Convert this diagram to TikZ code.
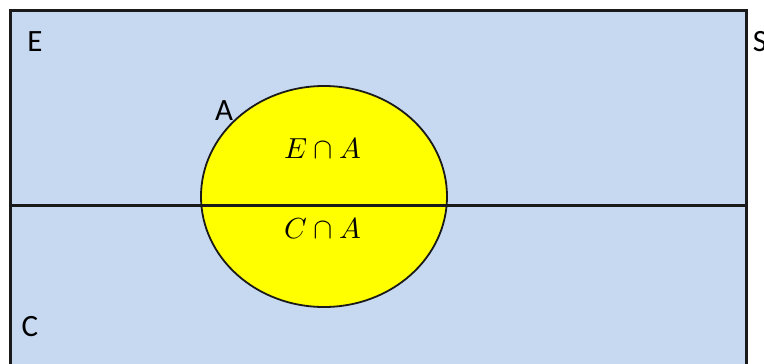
\documentclass[tikz,border=0pt]{standalone}
\usepackage{fontspec}
\setmainfont{Carlito}
\usepackage{unicode-math}
\setmathfont{Latin Modern Math}
\definecolor{bgblue}{HTML}{C6D9F1}
\definecolor{vyellow}{HTML}{FFFF00}
\definecolor{edge}{HTML}{1A1A1A}
\begin{document}
\begin{tikzpicture}[x=1pt,y=-1pt,
  lbl/.style={font=\fontsize{31}{36}\selectfont, inner sep=0pt, anchor=center},
  mlbl/.style={font=\fontsize{29}{34}\selectfont, inner sep=0pt, anchor=center}]
\useasboundingbox (0,0) rectangle (764,364);
\clip (0,0) rectangle (764,364);
\fill[white] (0,0) rectangle (764,364);
\draw[edge, line width=3pt, fill=bgblue] (10,10) rectangle (746,380);
\draw[edge, line width=1.8pt, fill=vyellow] (324,196.5) ellipse [x radius=123, y radius=110.5];
\coordinate (lineL) at (10,205.5);
\coordinate (lineR) at (746,205.5);
\draw[edge, line width=2.4pt] (lineL) -- (lineR);
\node[lbl] (E) at (35,42) {E};
\node[lbl] (S) at (760,42) {S};
\node[lbl] (A) at (224,111) {A};
\node[lbl] (C) at (30,327) {C};
\node[mlbl] (EA) at (323,148) {$E\cap A$};
\node[mlbl] (CA) at (323,228) {$C\cap A$};
\end{tikzpicture}
\end{document}
